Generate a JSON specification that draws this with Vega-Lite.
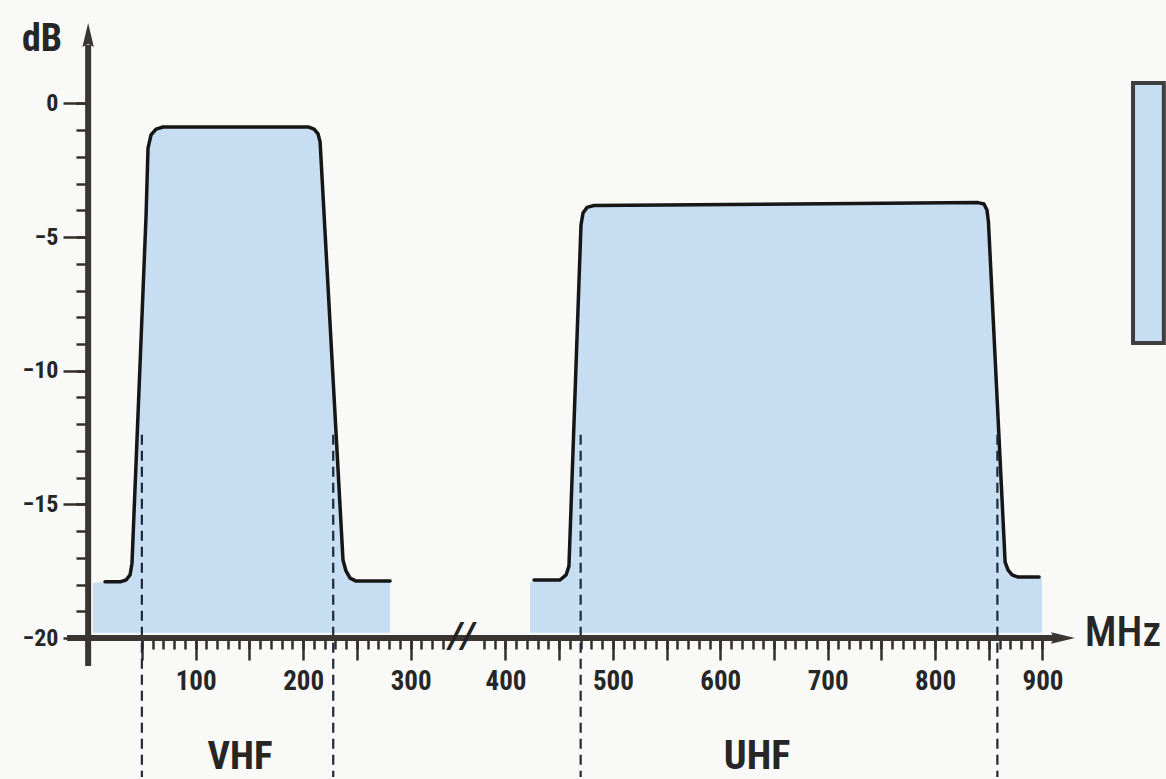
{
  "$schema": "https://vega.github.io/schema/vega-lite/v6.json",
  "background": "#f9f9f7",
  "padding": 0,
  "spacing": 0,
  "bounds": "flush",
  "config": {
    "view": {"stroke": null},
    "axis": {"domain": false, "grid": false, "labelFont": "Roboto Condensed, Liberation Sans, sans-serif", "labelColor": "#262626", "labelFontWeight": "bold", "tickColor": "#332e2a", "tickWidth": 2.5, "labelOverlap": false, "labelFlush": false},
    "text": {"font": "Roboto Condensed, Liberation Sans, sans-serif", "color": "#262626"}
  },
  "datasets": {
    "axes": [
      {"part": "yaxis", "f": 0, "f2": 0, "db": -21.05, "db2": 2.2},
      {"part": "xaxisL", "f": -19.6, "f2": 341.3, "db": -20, "db2": -20},
      {"part": "xaxisR", "f": 353, "f2": 915, "db": -20, "db2": -20}
    ],
    "arrows": [
      {"dir": "up", "f": 0, "db": 2.54},
      {"dir": "right", "f": 918.5, "db": -20}
    ],
    "curve": [
      {"band": "VHF", "f": 4.6, "db": -17.94, "edge": true},
      {"band": "VHF", "f": 15.7, "db": -17.9, "edge": false},
      {"band": "VHF", "f": 29.7, "db": -17.9, "edge": false},
      {"band": "VHF", "f": 35.3, "db": -17.83, "edge": false},
      {"band": "VHF", "f": 39.0, "db": -17.64, "edge": false},
      {"band": "VHF", "f": 40.8, "db": -17.2, "edge": false},
      {"band": "VHF", "f": 53.9, "db": -4.18, "edge": false},
      {"band": "VHF", "f": 55.7, "db": -1.67, "edge": false},
      {"band": "VHF", "f": 58.5, "db": -1.18, "edge": false},
      {"band": "VHF", "f": 63.2, "db": -0.96, "edge": false},
      {"band": "VHF", "f": 69.7, "db": -0.88, "edge": false},
      {"band": "VHF", "f": 204.6, "db": -0.88, "edge": false},
      {"band": "VHF", "f": 210.2, "db": -0.96, "edge": false},
      {"band": "VHF", "f": 213.9, "db": -1.14, "edge": false},
      {"band": "VHF", "f": 215.8, "db": -1.44, "edge": false},
      {"band": "VHF", "f": 237.1, "db": -17.08, "edge": false},
      {"band": "VHF", "f": 239.9, "db": -17.49, "edge": false},
      {"band": "VHF", "f": 243.7, "db": -17.76, "edge": false},
      {"band": "VHF", "f": 249.3, "db": -17.87, "edge": false},
      {"band": "VHF", "f": 280.9, "db": -17.87, "edge": false},
      {"band": "UHF", "f": 422.8, "db": -17.94, "edge": true},
      {"band": "UHF", "f": 426.6, "db": -17.83, "edge": false},
      {"band": "UHF", "f": 450.8, "db": -17.83, "edge": false},
      {"band": "UHF", "f": 456.4, "db": -17.64, "edge": false},
      {"band": "UHF", "f": 459.1, "db": -17.31, "edge": false},
      {"band": "UHF", "f": 470.3, "db": -4.55, "edge": false},
      {"band": "UHF", "f": 472.2, "db": -4.1, "edge": false},
      {"band": "UHF", "f": 475.9, "db": -3.89, "edge": false},
      {"band": "UHF", "f": 482.4, "db": -3.82, "edge": false},
      {"band": "UHF", "f": 839.9, "db": -3.71, "edge": false},
      {"band": "UHF", "f": 845.5, "db": -3.76, "edge": false},
      {"band": "UHF", "f": 848.3, "db": -3.99, "edge": false},
      {"band": "UHF", "f": 849.7, "db": -4.44, "edge": false},
      {"band": "UHF", "f": 865.2, "db": -17.16, "edge": false},
      {"band": "UHF", "f": 868.0, "db": -17.46, "edge": false},
      {"band": "UHF", "f": 871.7, "db": -17.64, "edge": false},
      {"band": "UHF", "f": 877.3, "db": -17.72, "edge": false},
      {"band": "UHF", "f": 896.8, "db": -17.72, "edge": false},
      {"band": "UHF", "f": 899.6, "db": -17.74, "edge": true}
    ],
    "bands": [
      {"band": "VHF", "f": 50, "top": -12.4, "bottom": -25.2},
      {"band": "VHF", "f": 228, "top": -12.4, "bottom": -25.2},
      {"band": "UHF", "f": 470, "top": -12.4, "bottom": -25.2},
      {"band": "UHF", "f": 858, "top": -12.4, "bottom": -25.2}
    ],
    "labels": [
      {"text": "dB", "f": -42.9, "db": 2.37},
      {"text": "VHF", "f": 141.3, "db": -24.45},
      {"text": "UHF", "f": 634.2, "db": -24.45},
      {"text": "MHz", "f": 975, "db": -19.81},
      {"text": "//", "f": 359.5, "db": -19.96}
    ],
    "box": [
      {"f1": 984.3, "f2": 1013, "d1": 0.76, "d2": -8.96}
    ]
  },
  "hconcat": [
    {
      "width": 455,
      "height": 638,
      "encoding": {
        "x": {"field": "f", "type": "quantitative", "scale": {"domain": [-82, 341.3], "nice": false, "zero": false}, "axis": null},
        "y": {"field": "db", "type": "quantitative", "scale": {"domain": [-20, 3.87], "nice": false, "zero": false}, "axis": null}
      },
      "layer": [
        {
          "data": {"name": "curve"},
          "transform": [{"filter": "datum.band === 'VHF'"}],
          "mark": {"type": "area", "color": "#c6ddf2"},
          "encoding": {"y2": {"datum": -19.8}}
        },
        {
          "data": {"name": "curve"},
          "transform": [{"filter": "datum.band === 'VHF' && !datum.edge"}],
          "mark": {"type": "line", "color": "#161616", "strokeWidth": 3.5, "strokeJoin": "round", "strokeCap": "round"},
          "encoding": {}
        },
        {
          "data": {"name": "bands"},
          "transform": [{"filter": "datum.band === 'VHF'"}],
          "mark": {"type": "rule", "color": "#1f293b", "strokeWidth": 2.2, "strokeDash": [10, 6]},
          "encoding": {"y": {"field": "top", "type": "quantitative", "axis": null}, "y2": {"field": "bottom"}}
        },
        {
          "data": {"name": "axes"},
          "transform": [{"filter": "datum.part === 'yaxis'"}],
          "mark": {"type": "rule", "color": "#3a3531", "strokeWidth": 6},
          "encoding": {
            "x": {"field": "f", "type": "quantitative", "axis": {"orient": "bottom", "title": null, "labels": false, "tickSize": 11, "values": [50, 60, 70, 80, 90, 100, 110, 120, 130, 140, 150, 160, 170, 180, 190, 200, 210, 220, 230, 240, 250, 260, 270, 280, 290, 300, 310, 320, 330]}},
            "y": {"field": "db", "type": "quantitative", "axis": {"orient": "left", "offset": -88, "title": null, "labels": false, "tickSize": 12, "values": [0, -1, -2, -3, -4, -5, -6, -7, -8, -9, -10, -11, -12, -13, -14, -15, -16, -17, -18, -19, -20]}},
            "y2": {"field": "db2"}
          }
        },
        {
          "data": {"name": "axes"},
          "transform": [{"filter": "datum.part === 'xaxisL'"}],
          "mark": {"type": "rule", "color": "#3a3531", "strokeWidth": 6},
          "encoding": {
            "x": {"field": "f", "type": "quantitative", "axis": {"orient": "bottom", "title": null, "tickSize": 22, "labelPadding": 8, "labelFontSize": 27, "values": [50, 100, 150, 200, 250, 300], "labelExpr": "datum.value % 100 === 0 ? datum.label : ''"}},
            "x2": {"field": "f2"},
            "y": {"field": "db", "type": "quantitative", "axis": {"orient": "left", "offset": -88, "title": null, "tickSize": 25, "labelPadding": 5, "labelFontSize": 24, "values": [0, -5, -10, -15, -20]}}
          }
        },
        {
          "data": {"name": "arrows"},
          "transform": [{"filter": "datum.dir === 'up'"}],
          "mark": {"type": "point", "shape": "M0,-1L0.45,0.9L0,0.65L-0.45,0.9Z", "filled": true, "color": "#3a3531", "size": 640, "opacity": 1},
          "encoding": {}
        },
        {
          "data": {"name": "labels"},
          "transform": [{"filter": "datum.text === 'dB'"}],
          "mark": {"type": "text", "fontSize": 38, "fontWeight": "bold", "align": "center", "baseline": "middle"},
          "encoding": {"text": {"field": "text"}}
        },
        {
          "data": {"name": "labels"},
          "transform": [{"filter": "datum.text === 'VHF'"}],
          "mark": {"type": "text", "fontSize": 39, "fontWeight": "bold", "align": "center", "baseline": "middle"},
          "encoding": {"text": {"field": "text"}}
        }
      ],
      "resolve": {"axis": {"x": "independent", "y": "independent"}}
    },
    {
      "width": 711,
      "height": 638,
      "encoding": {
        "x": {"field": "f", "type": "quantitative", "scale": {"domain": [353, 1015], "nice": false, "zero": false}, "axis": null},
        "y": {"field": "db", "type": "quantitative", "scale": {"domain": [-20, 3.87], "nice": false, "zero": false}, "axis": null}
      },
      "layer": [
        {
          "data": {"name": "box"},
          "mark": {"type": "rect", "fill": "#c6ddf2", "stroke": "#3f3f3f", "strokeWidth": 4},
          "encoding": {
            "x": {"field": "f1", "type": "quantitative", "axis": null},
            "x2": {"field": "f2"},
            "y": {"field": "d1", "type": "quantitative", "axis": null},
            "y2": {"field": "d2"}
          }
        },
        {
          "data": {"name": "curve"},
          "transform": [{"filter": "datum.band === 'UHF'"}],
          "mark": {"type": "area", "color": "#c6ddf2"},
          "encoding": {"y2": {"datum": -19.8}}
        },
        {
          "data": {"name": "curve"},
          "transform": [{"filter": "datum.band === 'UHF' && !datum.edge"}],
          "mark": {"type": "line", "color": "#161616", "strokeWidth": 3.5, "strokeJoin": "round", "strokeCap": "round"},
          "encoding": {}
        },
        {
          "data": {"name": "bands"},
          "transform": [{"filter": "datum.band === 'UHF'"}],
          "mark": {"type": "rule", "color": "#1f293b", "strokeWidth": 2.2, "strokeDash": [10, 6]},
          "encoding": {"y": {"field": "top", "type": "quantitative", "axis": null}, "y2": {"field": "bottom"}}
        },
        {
          "data": {"name": "axes"},
          "transform": [{"filter": "datum.part === 'xaxisR'"}],
          "mark": {"type": "rule", "color": "#3a3531", "strokeWidth": 6},
          "encoding": {
            "x": {"field": "f", "type": "quantitative", "axis": {"orient": "bottom", "title": null, "labels": false, "tickSize": 11, "values": [380, 390, 400, 410, 420, 430, 440, 450, 460, 470, 480, 490, 500, 510, 520, 530, 540, 550, 560, 570, 580, 590, 600, 610, 620, 630, 640, 650, 660, 670, 680, 690, 700, 710, 720, 730, 740, 750, 760, 770, 780, 790, 800, 810, 820, 830, 840, 850, 860, 870, 880, 890, 900]}},
            "x2": {"field": "f2"},
            "y": {"field": "db", "type": "quantitative", "axis": null}
          }
        },
        {
          "data": {"name": "arrows"},
          "transform": [{"filter": "datum.dir === 'right'"}],
          "mark": {"type": "point", "shape": "M0,-1L0.45,0.9L0,0.65L-0.45,0.9Z", "filled": true, "color": "#3a3531", "size": 640, "opacity": 1, "angle": 90},
          "encoding": {
            "x": {"field": "f", "type": "quantitative", "axis": {"orient": "bottom", "title": null, "tickSize": 22, "labelPadding": 8, "labelFontSize": 27, "values": [400, 450, 500, 550, 600, 650, 700, 750, 800, 850, 900], "labelExpr": "datum.value % 100 === 0 ? datum.label : ''"}}
          }
        },
        {
          "data": {"name": "labels"},
          "transform": [{"filter": "datum.text === '//'"}],
          "mark": {"type": "text", "fontSize": 34, "fontWeight": "bold", "fontStyle": "italic", "font": "DejaVu Sans", "align": "center", "baseline": "middle", "color": "#222222"},
          "encoding": {"text": {"field": "text"}}
        },
        {
          "data": {"name": "labels"},
          "transform": [{"filter": "datum.text === 'UHF'"}],
          "mark": {"type": "text", "fontSize": 40, "fontWeight": "bold", "align": "center", "baseline": "middle"},
          "encoding": {"text": {"field": "text"}}
        },
        {
          "data": {"name": "labels"},
          "transform": [{"filter": "datum.text === 'MHz'"}],
          "mark": {"type": "text", "fontSize": 42, "fontWeight": 500, "align": "center", "baseline": "middle"},
          "encoding": {"text": {"field": "text"}}
        }
      ],
      "resolve": {"axis": {"x": "independent", "y": "independent"}}
    }
  ]
}
